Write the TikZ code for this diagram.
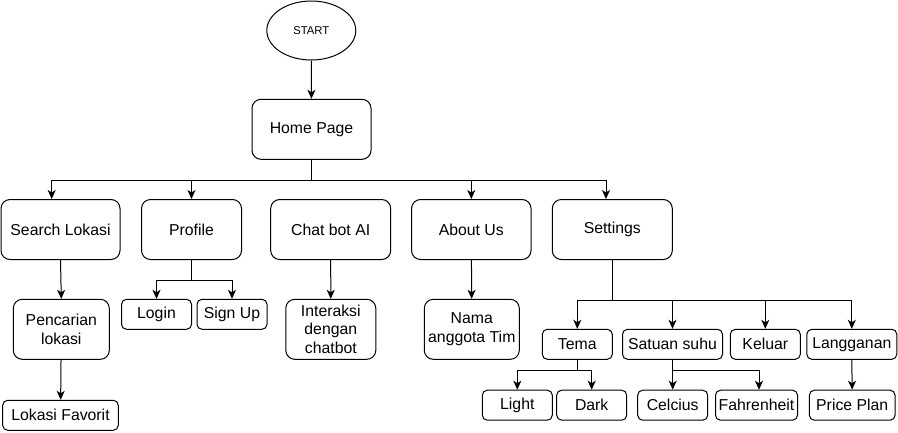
\documentclass[tikz,border=0pt]{standalone}
\usepackage{fontspec}
\setmainfont{Liberation Sans}
\usetikzlibrary{shapes.geometric,arrows.meta}

\begin{document}
\begin{tikzpicture}[x=1pt,y=-1pt,
  box/.style={draw, rounded corners=9pt, line width=1pt, minimum height=60pt, inner sep=0pt,
    align=center, text=black, font=\fontsize{15.8}{18.3}\selectfont},
  smallbox/.style={box, rounded corners=5pt, minimum height=30pt},
  arrow/.style={line width=1pt, -{Stealth[length=9pt,width=8pt,inset=2.5pt]}}]
\useasboundingbox (0,0) rectangle (898,432);
% top
\node[draw, ellipse, line width=1pt, minimum width=89pt, minimum height=59pt, inner sep=0pt,
  font=\fontsize{11.3}{13}\selectfont] (start) at (311.3,30.5) {START};
\node[box, minimum width=119pt] (home) at (311.5,129.3) {Home Page};
% menu
\node[box, minimum width=119pt] (search) at (60.5,229.5) {Search Lokasi};
\node[box, minimum width=100pt] (profile) at (191.5,229.5) {Profile};
\node[box, minimum width=120pt] (chatbot) at (330.7,229.5) {Chat bot AI};
\node[box, minimum width=119.5pt] (about) at (471.3,229.5) {About Us};
\node[box, minimum width=120pt] (settings) at (612.3,229.5) {Settings};
% second level
\node[box, minimum width=96pt] (pencarian) at (61.3,329.3) {Pencarian\\lokasi};
\node[smallbox, minimum width=115.6pt] (favorit) at (60.5,415.3) {Lokasi Favorit};
\node[smallbox, minimum width=70pt] (login) at (156.5,314.3) {Login};
\node[smallbox, minimum width=70pt] (signup) at (232,314.3) {Sign Up};
\node[box, minimum width=90pt] (interaksi) at (330.8,329.3) {Interaksi\\dengan\\chatbot};
\node[box, minimum width=95pt] (nama) at (471.8,329.3) {Nama\\anggota Tim};
\node[smallbox, minimum width=70pt] (tema) at (577.3,344.3) {Tema};
\node[smallbox, minimum width=100pt] (satuan) at (672.5,344.3) {Satuan suhu};
\node[smallbox, minimum width=70pt] (keluar) at (765.3,344.3) {Keluar};
\node[smallbox, minimum width=90pt] (langganan) at (851.8,344.3) {Langganan};
% third level
\node[smallbox, minimum width=70pt] (light) at (517.3,405.2) {Light};
\node[smallbox, minimum width=70pt] (dark) at (591.7,405.2) {Dark};
\node[smallbox, minimum width=70pt] (celcius) at (672.7,405.2) {Celcius};
\node[smallbox, minimum width=82pt] (fahrenheit) at (756.5,405.2) {Fahrenheit};
\node[smallbox, minimum width=85.7pt] (priceplan) at (852.2,405.2) {Price Plan};
% connectors
\draw[arrow] (start) -- (home);
\draw[arrow] (home.south) -- ++(0,21) -| ([xshift=-8.8pt]search.north);
\draw[arrow] (home.south) -- ++(0,21) -| (profile.north);
\draw[arrow] (home.south) -- ++(0,21) -| (about.north);
\draw[arrow] (home.south) -- ++(0,21) -| ([xshift=-6.3pt]settings.north);
\draw[arrow] (search.south) -- (pencarian.north);
\draw[arrow] (pencarian) -- (favorit);
\draw[arrow] (profile.south) -- ++(0,20.5) -| (login.north);
\draw[arrow] (profile.south) -- ++(0,20.5) -| (signup.north);
\draw[arrow] (chatbot) -- (interaksi);
\draw[arrow] (about) -- (nama);
\draw[arrow] (settings.south) -- ++(0,40.7) -| (tema.north);
\draw[arrow] (settings.south) -- ++(0,40.7) -| (satuan.north);
\draw[arrow] (settings.south) -- ++(0,40.7) -| (keluar.north);
\draw[arrow] (settings.south) -- ++(0,40.7) -| (langganan.north);
\draw[arrow] (tema.south) -- ++(0,10.7) -| (light.north);
\draw[arrow] (tema.south) -- ++(0,10.7) -| (dark.north);
\draw[arrow] (satuan.south) -- ++(0,10.7) -| (celcius.north);
\draw[arrow] (satuan.south) -- ++(0,10.7) -| ([xshift=2.5pt]fahrenheit.north);
\draw[arrow] (langganan) -- (priceplan);
\end{tikzpicture}
\end{document}
